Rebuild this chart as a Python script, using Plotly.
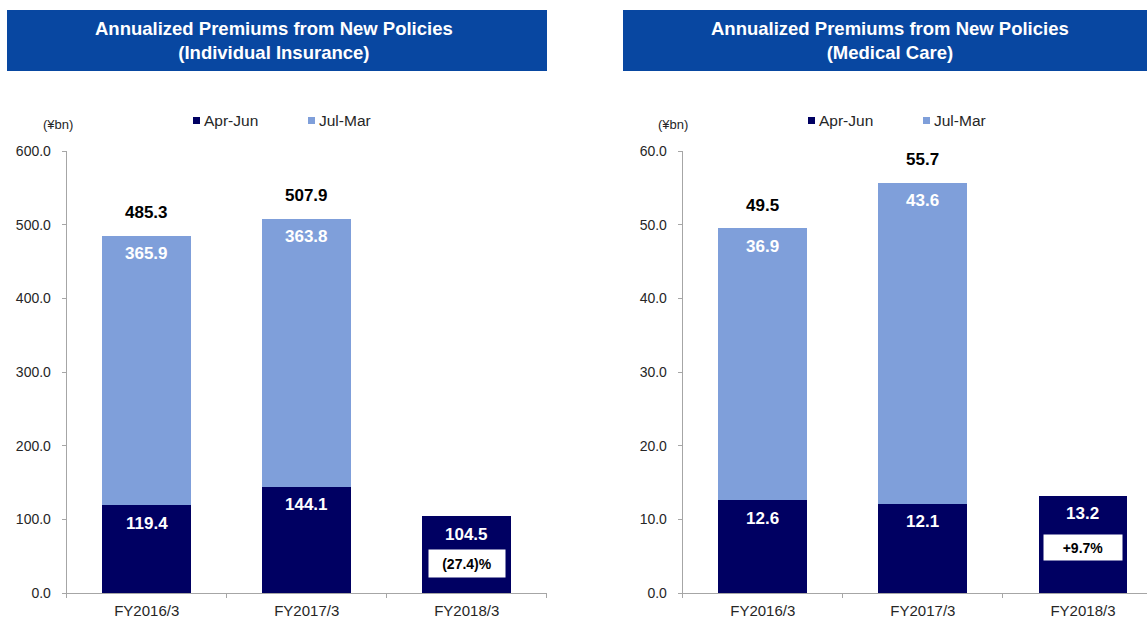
import plotly.graph_objects as go

categories = ["FY2016/3", "FY2017/3", "FY2018/3"]

ind_apr_jun = [119.4, 144.1, 104.5]
ind_jul_mar = [365.9, 363.8, None]
ind_totals = [485.3, 507.9, None]
ind_growth = "(27.4)%"

med_apr_jun = [12.6, 12.1, 13.2]
med_jul_mar = [36.9, 43.6, None]
med_totals = [49.5, 55.7, None]
med_growth = "+9.7%"

ind_ticks = [0, 100, 200, 300, 400, 500, 600]
med_ticks = [0, 10, 20, 30, 40, 50, 60]

series_names = ["Apr-Jun", "Jul-Mar"]
title_left = "Annualized Premiums from New Policies<br>(Individual Insurance)"
title_right = "Annualized Premiums from New Policies<br>(Medical Care)"

NAVY = "#000062"
LIGHT = "#7F9FDA"
HEADER = "#0847A1"
FONT = "Liberation Sans, Arial, sans-serif"
TXT = "#262626"
W, H = 1147, 619


def px(x):
    return x / W


def py(y):
    return 1 - y / H


fig = go.Figure()

panels = [
    dict(xa="x", ya="y", aj=ind_apr_jun, jm=ind_jul_mar, tot=ind_totals,
         growth=ind_growth, gw=76, gh=27, gshift=-47),
    dict(xa="x2", ya="y2", aj=med_apr_jun, jm=med_jul_mar, tot=med_totals,
         growth=med_growth, gw=78, gh=25, gshift=-52),
]

for p in panels:
    xa, ya, aj, jm, tot = p["xa"], p["ya"], p["aj"], p["jm"], p["tot"]
    fig.add_trace(go.Bar(x=categories, y=aj, name=series_names[0], marker_color=NAVY,
                         marker_line_width=0, width=0.555, xaxis=xa, yaxis=ya,
                         showlegend=False, hoverinfo="skip"))
    fig.add_trace(go.Bar(x=categories, y=jm, name=series_names[1], marker_color=LIGHT,
                         marker_line_width=0, width=0.555, xaxis=xa, yaxis=ya,
                         showlegend=False, hoverinfo="skip"))
    for i, c in enumerate(categories):
        fig.add_annotation(x=c, y=aj[i], xref=xa, yref=ya,
                           text=f"<b>{aj[i]:.1f}</b>", showarrow=False,
                           yanchor="middle", yshift=-18,
                           font=dict(family=FONT, size=17, color="white"))
        if jm[i] is not None:
            fig.add_annotation(x=c, y=aj[i] + jm[i], xref=xa, yref=ya,
                               text=f"<b>{jm[i]:.1f}</b>", showarrow=False,
                               yanchor="middle", yshift=-18,
                               font=dict(family=FONT, size=17, color="white"))
        if tot[i] is not None:
            fig.add_annotation(x=c, y=tot[i], xref=xa, yref=ya,
                               text=f"<b>{tot[i]:.1f}</b>", showarrow=False,
                               yanchor="middle", yshift=23,
                               font=dict(family=FONT, size=17, color="black"))
    fig.add_annotation(x=categories[2], y=aj[2], xref=xa, yref=ya,
                       text=f"<b>{p['growth']}</b>", showarrow=False,
                       yanchor="middle", yshift=p["gshift"],
                       width=p["gw"], height=p["gh"], borderpad=0, bgcolor="white",
                       font=dict(family=FONT, size=14, color="black"))

axis_common = dict(showline=True, linecolor="#A6A6A6", linewidth=1,
                   ticks="outside", tickcolor="#A6A6A6", ticklen=4,
                   showgrid=False, zeroline=False, fixedrange=True, automargin=False)
xfont = dict(family=FONT, size=15, color=TXT)
yfont = dict(family=FONT, size=14, color=TXT)

yd = [py(593), py(151)]
fig.update_layout(
    width=W, height=H,
    margin=dict(l=0, r=0, t=0, b=0, autoexpand=False),
    paper_bgcolor="white", plot_bgcolor="white",
    barmode="stack", showlegend=False,
    xaxis=dict(domain=[px(66.7), px(546.7)], range=[-0.5, 2.5], anchor="y",
               tickson="boundaries", tickfont=xfont, ticklabelstandoff=4, **axis_common),
    yaxis=dict(domain=yd, range=[0, 600], tickvals=ind_ticks, tickfont=yfont,
               ticklabelstandoff=8,
               ticktext=[f"{v:.1f}" for v in ind_ticks], anchor="x", **axis_common),
    xaxis2=dict(domain=[px(682.7), 1.0], range=[-0.5, 2.4], anchor="y2",
                tickson="boundaries", tickfont=xfont, ticklabelstandoff=4, **axis_common),
    yaxis2=dict(domain=yd, range=[0, 60], tickvals=med_ticks, tickfont=yfont,
                ticklabelstandoff=8,
                ticktext=[f"{v:.1f}" for v in med_ticks], anchor="x2", **axis_common),
)

# header boxes
for x0, x1, xc, t in [(7, 547, 274, title_left), (623, 1147, 890, title_right)]:
    fig.add_shape(type="rect", xref="paper", yref="paper",
                  x0=px(x0), x1=px(x1), y0=py(71), y1=py(10),
                  fillcolor=HEADER, line=dict(width=0), layer="below")
    fig.add_annotation(xref="paper", yref="paper", x=px(xc),
                       y=py(41), text=f"<b>{t}</b>", showarrow=False,
                       xanchor="center", yanchor="middle",
                       font=dict(family=FONT, size=18.5, color="white"))

# unit labels
for x in [58, 673]:
    fig.add_annotation(xref="paper", yref="paper", x=px(x), y=py(125),
                       text="(¥bn)", showarrow=False, xanchor="center", yanchor="middle",
                       font=dict(family=FONT, size=13, color=TXT))

# legends (square marker + label)
legend_pos = [(193, 308), (808, 923)]
for xs in legend_pos:
    for xq, name, col in zip(xs, series_names, [NAVY, LIGHT]):
        fig.add_shape(type="rect", xref="paper", yref="paper",
                      x0=px(xq), x1=px(xq + 7), y0=py(124), y1=py(117),
                      fillcolor=col, line=dict(width=0))
        fig.add_annotation(xref="paper", yref="paper", x=px(xq + 9), y=py(120),
                           text=name, showarrow=False, xanchor="left", yanchor="middle",
                           font=dict(family=FONT, size=15.5, color=TXT))

fig.write_html("out.html")
